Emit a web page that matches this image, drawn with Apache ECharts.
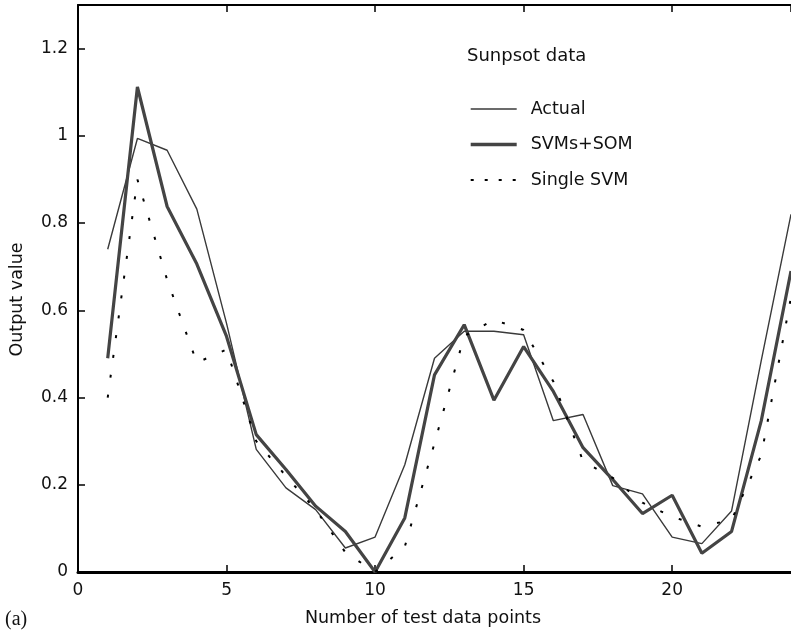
<!DOCTYPE html>
<html>
<head>
<meta charset="utf-8">
<script src="https://cdn.jsdelivr.net/npm/echarts@6/dist/echarts.min.js"></script>
<style>html,body{margin:0;padding:0;background:#fff;}#c{width:791px;height:632px;}</style>
</head>
<body>
<div id="c"></div>
<script>
const xValues = [1,2,3,4,5,6,7,8,9,10,11,12,13,14,15,16,17,18,19,20,21,22,23,24];
const actual = [0.74,0.994,0.967,0.832,0.57,0.281,0.193,0.143,0.055,0.08,0.246,0.49,0.552,0.552,0.544,0.347,0.361,0.198,0.179,0.08,0.065,0.14,0.485,0.82];
const svmsSom = [0.49,1.112,0.838,0.706,0.54,0.315,0.235,0.151,0.093,0.0,0.124,0.452,0.567,0.394,0.517,0.414,0.285,0.212,0.134,0.176,0.043,0.093,0.347,0.69];
const singleSvm = [0.40,0.90,0.67,0.48,0.51,0.30,0.22,0.143,0.045,0.0,0.058,0.295,0.541,0.578,0.555,0.437,0.254,0.216,0.159,0.127,0.104,0.12,0.268,0.63];
const seriesNames = ['Actual','SVMs+SOM','Single SVM'];
const chartTitle = 'Sunpsot data';
const xName = 'Number of test data points';
const yName = 'Output value';
const panelLabel = '(a)';

const pair = arr => arr.map((v, i) => [xValues[i], v]);
const sans = 'DejaVu Sans';
const chart = echarts.init(document.getElementById('c'), null, {renderer: 'canvas'});
chart.setOption({
  animation: false,
  backgroundColor: '#fff',
  title: [
    {text: chartTitle, left: 467, top: 46, padding: 0,
     textStyle: {fontFamily: sans, fontSize: 18, fontWeight: 'normal', color: '#111', lineHeight: 20}},
    {text: panelLabel, left: 5, top: 609, padding: 0,
     textStyle: {fontFamily: 'Liberation Serif', fontSize: 20, fontWeight: 'normal', color: '#111', lineHeight: 22}}
  ],
  legend: {
    orient: 'vertical', left: 469, top: 100, padding: 0,
    itemWidth: 46, itemHeight: 20, itemGap: 17.5,
    itemStyle: {opacity: 0},
    textStyle: {fontFamily: sans, fontSize: 17.5, color: '#111', padding: [0, 0, 0, 9]},
    data: [
      {name: seriesNames[0], lineStyle: {width: 1.4, color: '#3a3a3a'}},
      {name: seriesNames[1], lineStyle: {width: 3.4, color: '#444'}},
      {name: seriesNames[2], lineStyle: {type: [3, 11], width: 2, color: '#000'}}
    ]
  },
  grid: {left: 78, top: 5, width: 720, height: 568, containLabel: false},
  xAxis: [
    {type: 'value', min: 0, max: 24, interval: 5, position: 'bottom',
     name: xName, nameLocation: 'middle', nameGap: 37,
     nameTextStyle: {fontFamily: sans, fontSize: 17.5, color: '#111', padding: [0, 23, 0, 0]},
     axisLine: {show: true, lineStyle: {color: '#000', width: 3}},
     axisTick: {show: true, inside: true, length: 7, lineStyle: {color: '#000', width: 1.5}},
     axisLabel: {show: true, margin: 10, showMaxLabel: false, fontFamily: sans, fontSize: 17, color: '#111'},
     splitLine: {show: false}},
    {type: 'value', min: 0, max: 24, interval: 5, position: 'top',
     axisLine: {show: true, lineStyle: {color: '#000', width: 2}},
     axisTick: {show: true, inside: true, length: 7, lineStyle: {color: '#000', width: 1.5}},
     axisLabel: {show: false}, splitLine: {show: false}}
  ],
  yAxis: [
    {type: 'value', min: 0, max: 1.3, interval: 0.2,
     name: yName, nameLocation: 'middle', nameGap: 52, nameRotate: 90,
     nameTextStyle: {fontFamily: sans, fontSize: 17.5, color: '#111', padding: [0, 22, 0, 0]},
     axisLine: {show: true, lineStyle: {color: '#000', width: 2}},
     axisTick: {show: true, inside: true, length: 7, lineStyle: {color: '#000', width: 1.5}},
     axisLabel: {show: true, margin: 10, showMaxLabel: false, fontFamily: sans, fontSize: 17, color: '#111'},
     splitLine: {show: false}}
  ],
  series: [
    {name: seriesNames[0], type: 'line', data: pair(actual), symbol: 'none', showSymbol: false,
     lineStyle: {color: '#3a3a3a', width: 1.4}, itemStyle: {color: '#3a3a3a'}},
    {name: seriesNames[1], type: 'line', data: pair(svmsSom), symbol: 'none', showSymbol: false,
     lineStyle: {color: '#444', width: 3.2}, itemStyle: {color: '#444'}},
    {name: seriesNames[2], type: 'line', data: pair(singleSvm), symbol: 'none', showSymbol: false,
     lineStyle: {color: '#000', width: 2, type: [3, 17]}, itemStyle: {color: '#000'}}
  ]
});
</script>
</body>
</html>
